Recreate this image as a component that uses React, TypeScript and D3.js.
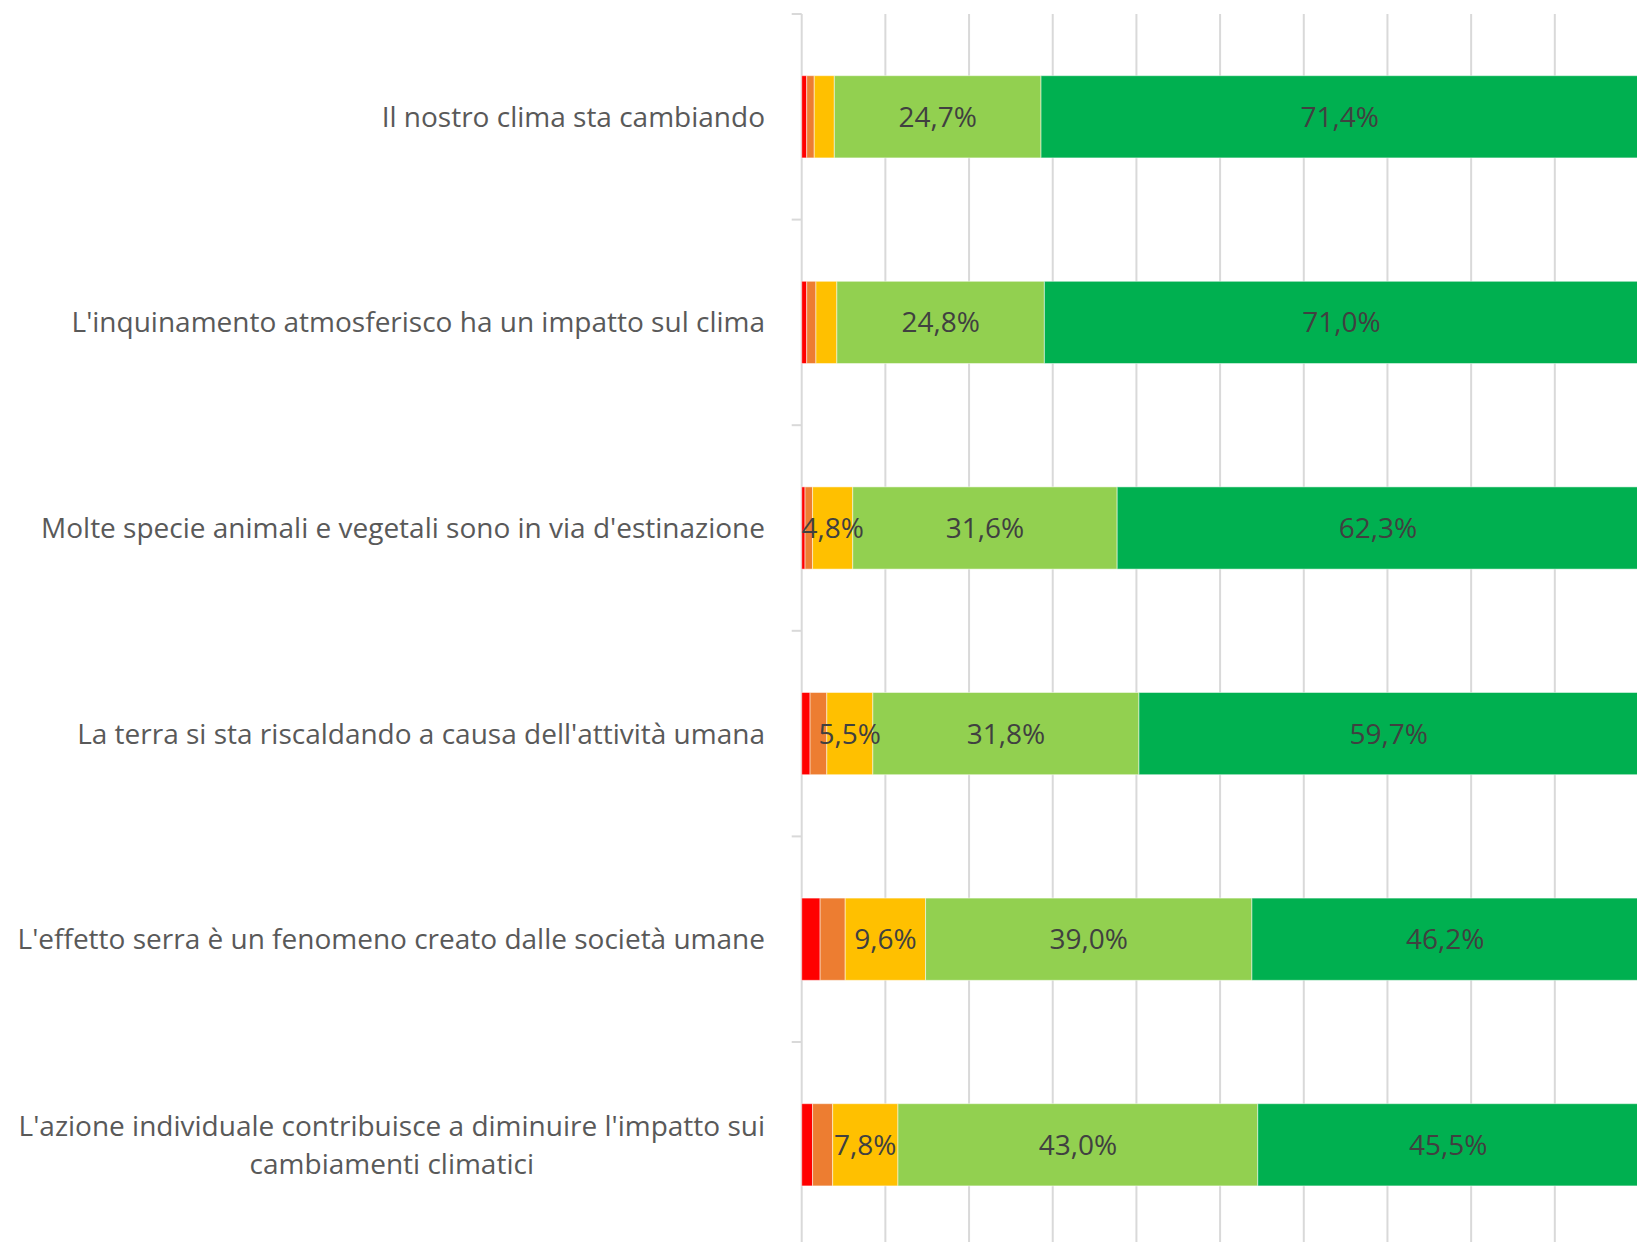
import React, { useEffect, useRef } from "react";
import * as d3 from "d3";

const categories = [
  "Il nostro clima sta cambiando",
  "L'inquinamento atmosferisco ha un impatto sul clima",
  "Molte specie animali e vegetali sono in via d'estinazione",
  "La terra si sta riscaldando a causa dell'attività umana",
  "L'effetto serra è un fenomeno creato dalle società umane",
  "L'azione individuale contribuisce a diminuire l'impatto sui cambiamenti climatici",
];

const seriesKeys = ["Per niente", "Poco", "Incerto", "Abbastanza", "Molto"];
const seriesColors = ["#FF0000", "#ED7D31", "#FFC000", "#92D050", "#00B050"];

const perNiente = [0.6, 0.6, 0.4, 1.0, 2.2, 1.3];
const poco = [0.9, 1.1, 0.9, 2.0, 3.0, 2.4];
const incerto = [2.4, 2.5, 4.8, 5.5, 9.6, 7.8];
const abbastanza = [24.7, 24.8, 31.6, 31.8, 39.0, 43.0];
const molto = [71.4, 71.0, 62.3, 59.7, 46.2, 45.5];

const xTicks = [0, 10, 20, 30, 40, 50, 60, 70, 80, 90, 100];

export default function App() {
  const ref = useRef<SVGSVGElement>(null);

  useEffect(() => {
    const svg = d3.select(ref.current);
    svg.selectAll("*").remove();

    const top = 14;
    const bottom = 1247.6;
    const x = d3.scaleLinear().domain([0, 100]).range([801.7, 1638.5]);
    const y = d3
      .scaleBand<string>()
      .domain(categories)
      .range([top, bottom])
      .paddingInner(0.6)
      .paddingOuter(0.3);

    const rows = categories.map((c, i) => ({
      cat: c,
      [seriesKeys[0]]: perNiente[i],
      [seriesKeys[1]]: poco[i],
      [seriesKeys[2]]: incerto[i],
      [seriesKeys[3]]: abbastanza[i],
      [seriesKeys[4]]: molto[i],
    }));
    const stacked = d3.stack<any>().keys(seriesKeys)(rows);

    // gridlines
    svg
      .append("g")
      .selectAll("line")
      .data(xTicks)
      .join("line")
      .attr("x1", (d) => x(d))
      .attr("x2", (d) => x(d))
      .attr("y1", top)
      .attr("y2", bottom)
      .attr("stroke", "#d9d9d9")
      .attr("stroke-width", 2);

    // category axis tick marks
    const step = y.step();
    svg
      .append("g")
      .selectAll("line")
      .data(d3.range(categories.length + 1))
      .join("line")
      .attr("x1", x(0) - 10)
      .attr("x2", x(0))
      .attr("y1", (i) => top + i * step)
      .attr("y2", (i) => top + i * step)
      .attr("stroke", "#d9d9d9")
      .attr("stroke-width", 2);

    // bars
    const layers = svg
      .append("g")
      .selectAll("g")
      .data(stacked)
      .join("g")
      .attr("fill", (_d, i) => seriesColors[i]);
    layers
      .selectAll("rect")
      .data((d) => d)
      .join("rect")
      .attr("x", (d: any) => x(d[0]))
      .attr("width", (d: any) => x(d[1]) - x(d[0]))
      .attr("y", (d: any) => y(d.data.cat)!)
      .attr("height", y.bandwidth())
      .attr("stroke", "#ffffff")
      .attr("stroke-opacity", 0.5)
      .attr("stroke-width", 1);

    // data labels
    const fmt = (v: number) => d3.format(".1f")(v).replace(".", ",") + "%";
    const labelFs = 28;
    const labels: { x: number; y: number; t: string }[] = [];
    stacked.forEach((layer) => {
      layer.forEach((d: any) => {
        const v = d[1] - d[0];
        if (v >= 4) {
          labels.push({
            x: (x(d[0]) + x(d[1])) / 2,
            y: y(d.data.cat)! + y.bandwidth() / 2 + 0.357 * labelFs,
            t: fmt(v),
          });
        }
      });
    });
    svg
      .append("g")
      .selectAll("text")
      .data(labels)
      .join("text")
      .attr("x", (d) => d.x)
      .attr("y", (d) => d.y)
      .attr("text-anchor", "middle")
      .attr("font-family", "'Open Sans', sans-serif")
      .attr("font-size", labelFs)
      .attr("fill", "#404040")
      .text((d) => d.t);

    // category labels
    const catFs = 28;
    const rightEdge = 765;
    const maxW = 770;
    const lineH = 38;
    const gCat = svg.append("g");
    categories.forEach((c) => {
      const t = gCat
        .append("text")
        .attr("font-family", "'Open Sans', sans-serif")
        .attr("font-size", catFs)
        .attr("fill", "#595959")
        .attr("text-anchor", "middle");
      const words = c.split(" ");
      const lines: string[] = [];
      let cur = "";
      const probe = t.append("tspan");
      words.forEach((w) => {
        const test = cur ? cur + " " + w : w;
        probe.text(test);
        if ((probe.node() as SVGTSpanElement).getComputedTextLength() > maxW && cur) {
          lines.push(cur);
          cur = w;
        } else {
          cur = test;
        }
      });
      if (cur) lines.push(cur);
      probe.remove();
      const widths = lines.map((l) => {
        const p = t.append("tspan").text(l);
        const wv = (p.node() as SVGTSpanElement).getComputedTextLength();
        p.remove();
        return wv;
      });
      const bw = Math.max(...widths);
      const cx = rightEdge - bw / 2;
      const cy = y(c)! + y.bandwidth() / 2;
      const firstBase = cy - ((lines.length - 1) * lineH) / 2 + 0.357 * catFs;
      lines.forEach((l, i) => {
        t.append("tspan")
          .attr("x", cx)
          .attr("y", firstBase + i * lineH)
          .text(l);
      });
    });
  }, []);

  return (
    <svg
      ref={ref}
      width={1637}
      height={1242}
      style={{ position: "absolute", left: 0, top: 0, background: "#ffffff" }}
    />
  );
}
